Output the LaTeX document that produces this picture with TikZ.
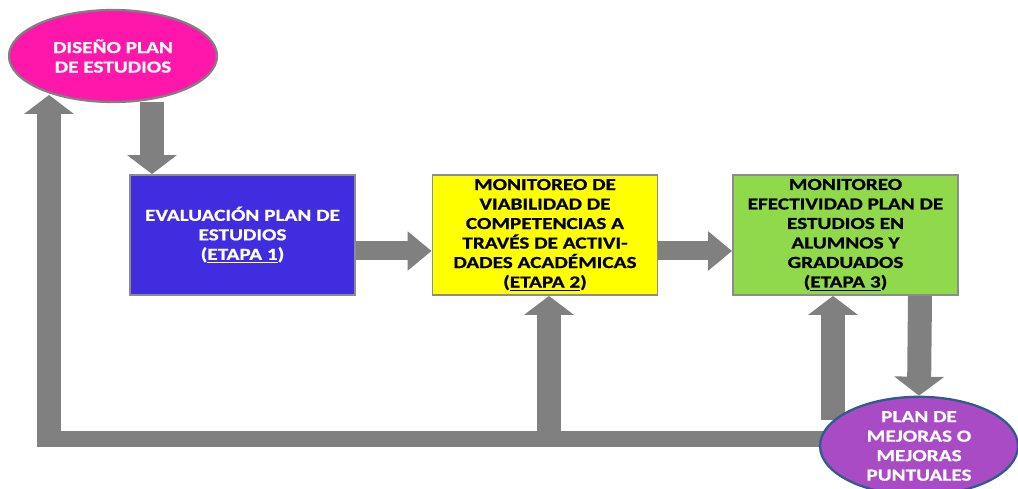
\documentclass[tikz,border=0pt]{standalone}
\usepackage{fontspec}
\setmainfont{Carlito}[FakeStretch=1.26, BoldFeatures={FakeBold=0.8}]
\usetikzlibrary{arrows.meta,shapes.geometric}
\definecolor{pinkc}{HTML}{FF16AA}
\definecolor{bluec}{HTML}{402DE0}
\definecolor{yellowc}{HTML}{FFFF00}
\definecolor{greenc}{HTML}{8FD94A}
\definecolor{purplec}{HTML}{A94BC4}
\definecolor{purpleb}{HTML}{2F5D8A}
\definecolor{arrowc}{HTML}{808080}
\definecolor{borderc}{HTML}{8C8C8C}
\tikzset{
  txt/.style={font=\fontsize{9.6}{11.1}\selectfont\bfseries, align=center},
  stagebox/.style={txt, draw=borderc, line width=1.1pt, minimum width=4.5cm, minimum height=2.4cm, inner sep=0pt},
  oval/.style={txt, ellipse, inner sep=0pt, text=white},
  vbig/.style={draw=arrowc, line width=0.48cm, line cap=butt, -{Triangle[width=0.98cm, length=0.38cm]}},
  hbig/.style={draw=arrowc, line width=0.38cm, line cap=butt, -{Triangle[width=0.76cm, length=0.48cm]}},
  bar/.style={draw=arrowc, line width=0.32cm, line cap=butt},
}
\begin{document}
\begin{tikzpicture}[x=0.02cm, y=-0.02cm]
\clip (0,0) rectangle (1018,489);
\useasboundingbox (0,0) rectangle (1018,489);
% nodes
\node[oval, fill=pinkc, draw=arrowc, line width=1.3pt, minimum width=4.16cm, minimum height=1.84cm] (pink) at (113,56) {DISEÑO PLAN\\DE ESTUDIOS};
\node[stagebox, fill=bluec, text=white] (blue) at (242.5,235) {EVALUACIÓN PLAN DE\\ESTUDIOS\\(\underline{ETAPA 1})};
\node[stagebox, fill=yellowc, text=black] (yellow) at (545,235) {MONITOREO DE\\VIABILIDAD DE\\COMPETENCIAS A\\TRAVÉS DE ACTIVI-\\DADES ACADÉMICAS\\(\underline{ETAPA 2})};
\node[stagebox, fill=greenc, text=black] (green) at (845.5,235) {MONITOREO\\EFECTIVIDAD PLAN DE\\ESTUDIOS EN\\ALUMNOS Y\\GRADUADOS\\(\underline{ETAPA 3})};
% coordinates for free ends
\coordinate (barL) at (37,439);
\coordinate (barR) at (850,439);
\coordinate (leftBot) at (49,447);
\coordinate (leftTop) at (49,95);
\coordinate (midBot) at (549,431);
\coordinate (rUpBot) at (833,420);
% connectors
\draw[bar] (barL) -- (barR);
\draw[vbig] (leftBot) -- (leftTop);
\draw[vbig] (152,102) -- (152,0 |- blue.north);
\draw[hbig] ([yshift=-0.32cm]blue.east) -- ([yshift=-0.32cm]yellow.west);
\draw[hbig] ([yshift=-0.32cm]yellow.east) -- ([yshift=-0.32cm]green.west);
\draw[vbig] (midBot) -- (549,0 |- yellow.south);
\draw[vbig] (rUpBot) -- (833,0 |- green.south);
\node[oval, fill=purplec, draw=purpleb, line width=1.3pt, minimum width=3.96cm, minimum height=1.84cm] (purple) at (919,446) {PLAN DE\\MEJORAS O\\MEJORAS\\PUNTUALES};
\draw[vbig] (920,0 |- green.south) -- (purple.north);
\end{tikzpicture}
\end{document}
